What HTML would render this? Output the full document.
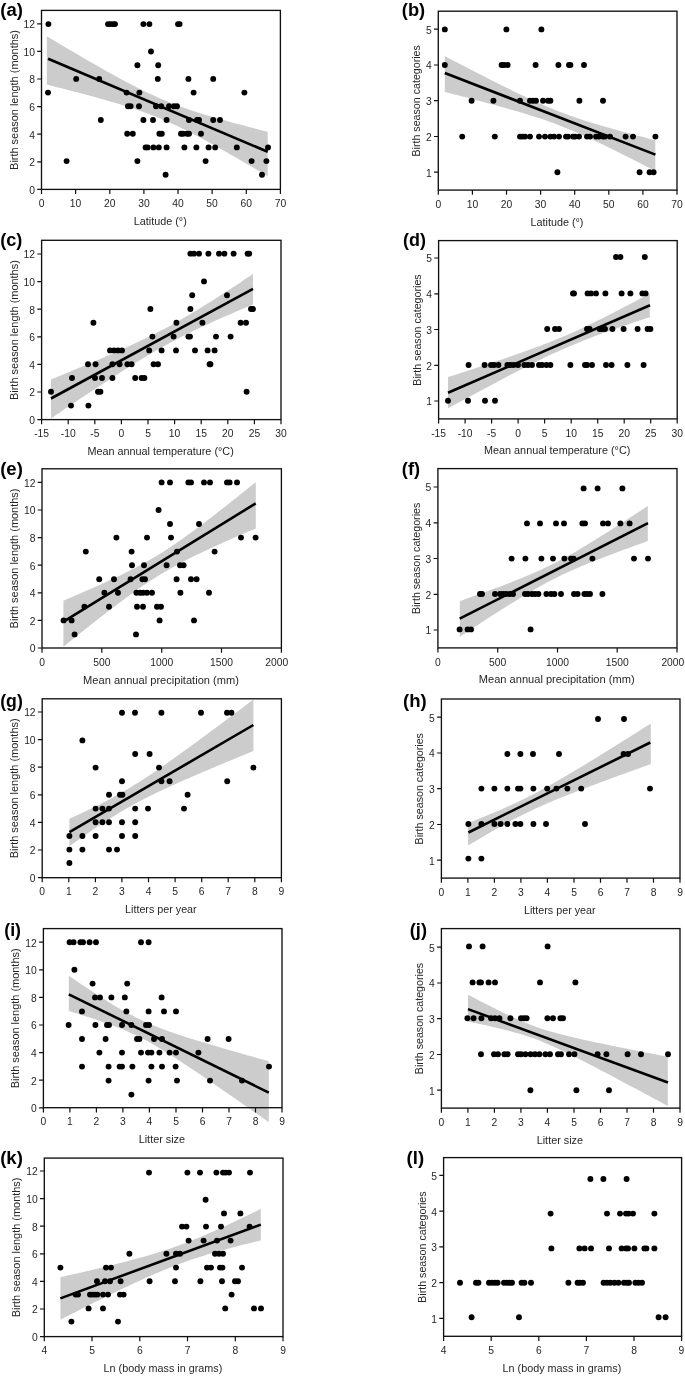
<!DOCTYPE html><html><head><meta charset="utf-8"><style>html,body{margin:0;padding:0;background:#fff;overflow:hidden;}svg{display:block;filter:grayscale(1);}text{font-family:"Liberation Sans", sans-serif;}</style></head><body>
<svg width="685" height="1377" viewBox="0 0 685 1377" shape-rendering="geometricPrecision">
<rect width="685" height="1377" fill="#fff"/>
<clipPath id="clip_a"><rect x="41.5" y="10.4" width="238.9" height="179"/></clipPath>
<path d="M46.80,36.29 L51.40,39.03 L56.00,41.76 L60.61,44.49 L65.21,47.21 L69.81,49.92 L74.41,52.62 L79.01,55.31 L83.62,57.99 L88.22,60.66 L92.82,63.31 L97.42,65.94 L102.02,68.56 L106.63,71.16 L111.23,73.73 L115.83,76.27 L120.43,78.78 L125.04,81.26 L129.64,83.69 L134.24,86.08 L138.84,88.42 L143.44,90.70 L148.05,92.92 L152.65,95.07 L157.25,97.15 L161.85,99.16 L166.45,101.09 L171.06,102.95 L175.66,104.73 L180.26,106.44 L184.86,108.09 L189.46,109.68 L194.07,111.21 L198.67,112.70 L203.27,114.14 L207.87,115.54 L212.47,116.91 L217.08,118.25 L221.68,119.57 L226.28,120.86 L230.88,122.13 L235.49,123.38 L240.09,124.62 L244.69,125.85 L249.29,127.06 L253.89,128.26 L258.50,129.46 L263.10,130.64 L267.70,131.82 L267.70,176.16 L263.10,173.43 L258.50,170.72 L253.89,168.01 L249.29,165.32 L244.69,162.63 L240.09,159.96 L235.49,157.30 L230.88,154.66 L226.28,152.03 L221.68,149.43 L217.08,146.84 L212.47,144.28 L207.87,141.76 L203.27,139.26 L198.67,136.81 L194.07,134.39 L189.46,132.03 L184.86,129.72 L180.26,127.47 L175.66,125.28 L171.06,123.17 L166.45,121.13 L161.85,119.16 L157.25,117.27 L152.65,115.45 L148.05,113.70 L143.44,112.02 L138.84,110.41 L134.24,108.85 L129.64,107.34 L125.04,105.88 L120.43,104.46 L115.83,103.07 L111.23,101.72 L106.63,100.39 L102.02,99.09 L97.42,97.80 L92.82,96.54 L88.22,95.30 L83.62,94.06 L79.01,92.85 L74.41,91.64 L69.81,90.44 L65.21,89.25 L60.61,88.07 L56.00,86.90 L51.40,85.74 L46.80,84.58 Z" fill="#cccccc" clip-path="url(#clip_a)"/>
<circle cx="48.4" cy="24.1" r="2.95"/>
<circle cx="108" cy="24.1" r="2.95"/>
<circle cx="110.4" cy="24.1" r="2.95"/>
<circle cx="113" cy="24.1" r="2.95"/>
<circle cx="115" cy="24.1" r="2.95"/>
<circle cx="143.4" cy="24.1" r="2.95"/>
<circle cx="149.4" cy="24.1" r="2.95"/>
<circle cx="178" cy="24.1" r="2.95"/>
<circle cx="179.6" cy="24.1" r="2.95"/>
<circle cx="151" cy="51.5" r="2.95"/>
<circle cx="137.4" cy="65.2" r="2.95"/>
<circle cx="158.2" cy="65.2" r="2.95"/>
<circle cx="76.2" cy="78.9" r="2.95"/>
<circle cx="99.2" cy="78.9" r="2.95"/>
<circle cx="157.8" cy="78.9" r="2.95"/>
<circle cx="188.4" cy="78.9" r="2.95"/>
<circle cx="213.2" cy="78.9" r="2.95"/>
<circle cx="48" cy="92.6" r="2.95"/>
<circle cx="126.6" cy="92.6" r="2.95"/>
<circle cx="139.4" cy="92.6" r="2.95"/>
<circle cx="193.6" cy="92.6" r="2.95"/>
<circle cx="244.4" cy="92.6" r="2.95"/>
<circle cx="128" cy="106.3" r="2.95"/>
<circle cx="130.6" cy="106.3" r="2.95"/>
<circle cx="139" cy="106.3" r="2.95"/>
<circle cx="156" cy="106.3" r="2.95"/>
<circle cx="161.2" cy="106.3" r="2.95"/>
<circle cx="169" cy="106.3" r="2.95"/>
<circle cx="174" cy="106.3" r="2.95"/>
<circle cx="177" cy="106.3" r="2.95"/>
<circle cx="100.8" cy="120" r="2.95"/>
<circle cx="143.4" cy="120" r="2.95"/>
<circle cx="153" cy="120" r="2.95"/>
<circle cx="166.6" cy="120" r="2.95"/>
<circle cx="189" cy="120" r="2.95"/>
<circle cx="197" cy="120" r="2.95"/>
<circle cx="199" cy="120" r="2.95"/>
<circle cx="213.2" cy="120" r="2.95"/>
<circle cx="220" cy="120" r="2.95"/>
<circle cx="127.2" cy="133.7" r="2.95"/>
<circle cx="132.8" cy="133.7" r="2.95"/>
<circle cx="159.4" cy="133.7" r="2.95"/>
<circle cx="161.8" cy="133.7" r="2.95"/>
<circle cx="181" cy="133.7" r="2.95"/>
<circle cx="183" cy="133.7" r="2.95"/>
<circle cx="187" cy="133.7" r="2.95"/>
<circle cx="189" cy="133.7" r="2.95"/>
<circle cx="201" cy="133.7" r="2.95"/>
<circle cx="145.6" cy="147.4" r="2.95"/>
<circle cx="147.6" cy="147.4" r="2.95"/>
<circle cx="153.4" cy="147.4" r="2.95"/>
<circle cx="158.8" cy="147.4" r="2.95"/>
<circle cx="166.6" cy="147.4" r="2.95"/>
<circle cx="184.4" cy="147.4" r="2.95"/>
<circle cx="196.4" cy="147.4" r="2.95"/>
<circle cx="208.6" cy="147.4" r="2.95"/>
<circle cx="215.2" cy="147.4" r="2.95"/>
<circle cx="236.8" cy="147.4" r="2.95"/>
<circle cx="268" cy="147.4" r="2.95"/>
<circle cx="66.6" cy="161.1" r="2.95"/>
<circle cx="137.4" cy="161.1" r="2.95"/>
<circle cx="205.6" cy="161.1" r="2.95"/>
<circle cx="251.6" cy="161.1" r="2.95"/>
<circle cx="266.4" cy="161.1" r="2.95"/>
<circle cx="165.6" cy="174.8" r="2.95"/>
<circle cx="262" cy="174.8" r="2.95"/>
<line x1="48.1" y1="58.8" x2="267.7" y2="151.8" stroke="#000" stroke-width="2.6"/>
<rect x="41.5" y="10.4" width="238.9" height="179" fill="none" stroke="#111" stroke-width="1.35"/>
<text x="41.5" y="207" font-size="10.3" fill="#262626" text-anchor="middle">0</text>
<text x="75.6" y="207" font-size="10.3" fill="#262626" text-anchor="middle">10</text>
<text x="109.8" y="207" font-size="10.3" fill="#262626" text-anchor="middle">20</text>
<text x="143.9" y="207" font-size="10.3" fill="#262626" text-anchor="middle">30</text>
<text x="178" y="207" font-size="10.3" fill="#262626" text-anchor="middle">40</text>
<text x="212.1" y="207" font-size="10.3" fill="#262626" text-anchor="middle">50</text>
<text x="246.3" y="207" font-size="10.3" fill="#262626" text-anchor="middle">60</text>
<text x="280.4" y="207" font-size="10.3" fill="#262626" text-anchor="middle">70</text>
<text x="34.9" y="193.8" font-size="10.3" fill="#262626" text-anchor="end">0</text>
<text x="34.9" y="166.2" font-size="10.3" fill="#262626" text-anchor="end">2</text>
<text x="34.9" y="138.6" font-size="10.3" fill="#262626" text-anchor="end">4</text>
<text x="34.9" y="111" font-size="10.3" fill="#262626" text-anchor="end">6</text>
<text x="34.9" y="83.4" font-size="10.3" fill="#262626" text-anchor="end">8</text>
<text x="34.9" y="55.8" font-size="10.3" fill="#262626" text-anchor="end">10</text>
<text x="34.9" y="28.2" font-size="10.3" fill="#262626" text-anchor="end">12</text>
<path d="M41.5,189.4v4.7 M75.6,189.4v4.7 M109.8,189.4v4.7 M143.9,189.4v4.7 M178,189.4v4.7 M212.1,189.4v4.7 M246.3,189.4v4.7 M280.4,189.4v4.7 M41.5,189.4h-4.3 M41.5,161.8h-4.3 M41.5,134.2h-4.3 M41.5,106.6h-4.3 M41.5,79h-4.3 M41.5,51.4h-4.3 M41.5,23.8h-4.3" stroke="#111" stroke-width="1.2" fill="none"/>
<text x="133.8" y="224.9" font-size="10.5" fill="#262626" textLength="52.96" lengthAdjust="spacingAndGlyphs">Latitude (°)</text>
<text transform="translate(17.5,99.9) rotate(-90)" x="-70.00" y="0" font-size="10.5" fill="#262626" textLength="139.77" lengthAdjust="spacingAndGlyphs">Birth season length (months)</text>
<text x="0.28" y="16.14" font-size="18" font-weight="bold" fill="#000" textLength="22.65" lengthAdjust="spacingAndGlyphs">(a)</text>
<clipPath id="clip_b"><rect x="438.3" y="11.2" width="238.7" height="178.9"/></clipPath>
<path d="M444.80,56.26 L449.19,58.54 L453.57,60.81 L457.96,63.08 L462.34,65.35 L466.73,67.61 L471.11,69.86 L475.50,72.11 L479.88,74.35 L484.27,76.58 L488.65,78.81 L493.04,81.02 L497.43,83.23 L501.81,85.42 L506.20,87.59 L510.58,89.75 L514.97,91.88 L519.35,94.00 L523.74,96.09 L528.12,98.15 L532.51,100.17 L536.89,102.16 L541.28,104.11 L545.66,106.00 L550.05,107.85 L554.44,109.65 L558.82,111.38 L563.21,113.06 L567.59,114.69 L571.98,116.26 L576.36,117.77 L580.75,119.24 L585.13,120.67 L589.52,122.05 L593.90,123.40 L598.29,124.72 L602.67,126.01 L607.06,127.28 L611.45,128.53 L615.83,129.76 L620.22,130.97 L624.60,132.17 L628.99,133.36 L633.37,134.54 L637.76,135.71 L642.14,136.87 L646.53,138.02 L650.91,139.16 L655.30,140.30 L655.30,171.03 L650.91,168.78 L646.53,166.52 L642.14,164.28 L637.76,162.04 L633.37,159.81 L628.99,157.59 L624.60,155.38 L620.22,153.18 L615.83,150.99 L611.45,148.83 L607.06,146.67 L602.67,144.54 L598.29,142.44 L593.90,140.36 L589.52,138.31 L585.13,136.30 L580.75,134.32 L576.36,132.39 L571.98,130.51 L567.59,128.68 L563.21,126.91 L558.82,125.19 L554.44,123.53 L550.05,121.92 L545.66,120.37 L541.28,118.87 L536.89,117.42 L532.51,116.01 L528.12,114.64 L523.74,113.30 L519.35,111.99 L514.97,110.71 L510.58,109.44 L506.20,108.20 L501.81,106.98 L497.43,105.77 L493.04,104.57 L488.65,103.39 L484.27,102.22 L479.88,101.05 L475.50,99.89 L471.11,98.74 L466.73,97.60 L462.34,96.46 L457.96,95.33 L453.57,94.20 L449.19,93.08 L444.80,91.95 Z" fill="#cccccc" clip-path="url(#clip_b)"/>
<circle cx="444.8" cy="29.4" r="2.95"/>
<circle cx="506.4" cy="29.4" r="2.95"/>
<circle cx="541.4" cy="29.4" r="2.95"/>
<circle cx="444.8" cy="65" r="2.95"/>
<circle cx="501.6" cy="65" r="2.95"/>
<circle cx="504" cy="65" r="2.95"/>
<circle cx="507.6" cy="65" r="2.95"/>
<circle cx="535.6" cy="65" r="2.95"/>
<circle cx="558.4" cy="65" r="2.95"/>
<circle cx="569" cy="65" r="2.95"/>
<circle cx="570.4" cy="65" r="2.95"/>
<circle cx="584" cy="65" r="2.95"/>
<circle cx="471.6" cy="100.8" r="2.95"/>
<circle cx="493.4" cy="100.8" r="2.95"/>
<circle cx="520" cy="100.8" r="2.95"/>
<circle cx="530" cy="100.8" r="2.95"/>
<circle cx="533" cy="100.8" r="2.95"/>
<circle cx="536" cy="100.8" r="2.95"/>
<circle cx="543" cy="100.8" r="2.95"/>
<circle cx="548" cy="100.8" r="2.95"/>
<circle cx="550.4" cy="100.8" r="2.95"/>
<circle cx="579.4" cy="100.8" r="2.95"/>
<circle cx="603" cy="100.8" r="2.95"/>
<circle cx="462.2" cy="136.6" r="2.95"/>
<circle cx="494.8" cy="136.6" r="2.95"/>
<circle cx="520" cy="136.6" r="2.95"/>
<circle cx="522.4" cy="136.6" r="2.95"/>
<circle cx="525" cy="136.6" r="2.95"/>
<circle cx="530" cy="136.6" r="2.95"/>
<circle cx="539" cy="136.6" r="2.95"/>
<circle cx="545" cy="136.6" r="2.95"/>
<circle cx="550.4" cy="136.6" r="2.95"/>
<circle cx="554" cy="136.6" r="2.95"/>
<circle cx="559" cy="136.6" r="2.95"/>
<circle cx="566" cy="136.6" r="2.95"/>
<circle cx="568" cy="136.6" r="2.95"/>
<circle cx="573" cy="136.6" r="2.95"/>
<circle cx="575" cy="136.6" r="2.95"/>
<circle cx="579" cy="136.6" r="2.95"/>
<circle cx="587" cy="136.6" r="2.95"/>
<circle cx="590" cy="136.6" r="2.95"/>
<circle cx="596" cy="136.6" r="2.95"/>
<circle cx="599" cy="136.6" r="2.95"/>
<circle cx="603" cy="136.6" r="2.95"/>
<circle cx="605" cy="136.6" r="2.95"/>
<circle cx="610" cy="136.6" r="2.95"/>
<circle cx="625.6" cy="136.6" r="2.95"/>
<circle cx="633" cy="136.6" r="2.95"/>
<circle cx="655.4" cy="136.6" r="2.95"/>
<circle cx="557.4" cy="172.2" r="2.95"/>
<circle cx="639.6" cy="172.2" r="2.95"/>
<circle cx="649.6" cy="172.2" r="2.95"/>
<circle cx="653.6" cy="172.2" r="2.95"/>
<line x1="444.8" y1="73" x2="655.4" y2="154.6" stroke="#000" stroke-width="2.6"/>
<rect x="438.3" y="11.2" width="238.7" height="178.9" fill="none" stroke="#111" stroke-width="1.35"/>
<text x="438.3" y="207.7" font-size="10.3" fill="#262626" text-anchor="middle">0</text>
<text x="472.4" y="207.7" font-size="10.3" fill="#262626" text-anchor="middle">10</text>
<text x="506.5" y="207.7" font-size="10.3" fill="#262626" text-anchor="middle">20</text>
<text x="540.6" y="207.7" font-size="10.3" fill="#262626" text-anchor="middle">30</text>
<text x="574.7" y="207.7" font-size="10.3" fill="#262626" text-anchor="middle">40</text>
<text x="608.8" y="207.7" font-size="10.3" fill="#262626" text-anchor="middle">50</text>
<text x="642.9" y="207.7" font-size="10.3" fill="#262626" text-anchor="middle">60</text>
<text x="677" y="207.7" font-size="10.3" fill="#262626" text-anchor="middle">70</text>
<text x="431.7" y="176.6" font-size="10.3" fill="#262626" text-anchor="end">1</text>
<text x="431.7" y="140.9" font-size="10.3" fill="#262626" text-anchor="end">2</text>
<text x="431.7" y="105.1" font-size="10.3" fill="#262626" text-anchor="end">3</text>
<text x="431.7" y="69.4" font-size="10.3" fill="#262626" text-anchor="end">4</text>
<text x="431.7" y="33.6" font-size="10.3" fill="#262626" text-anchor="end">5</text>
<path d="M438.3,190.1v4.7 M472.4,190.1v4.7 M506.5,190.1v4.7 M540.6,190.1v4.7 M574.7,190.1v4.7 M608.8,190.1v4.7 M642.9,190.1v4.7 M677,190.1v4.7 M438.3,172.2h-4.3 M438.3,136.5h-4.3 M438.3,100.7h-4.3 M438.3,65h-4.3 M438.3,29.2h-4.3" stroke="#111" stroke-width="1.2" fill="none"/>
<text x="530.5" y="225.6" font-size="10.5" fill="#262626" textLength="52.96" lengthAdjust="spacingAndGlyphs">Latitude (°)</text>
<text transform="translate(420.2,100.6) rotate(-90)" x="-55.92" y="0" font-size="10.5" fill="#262626" textLength="111.36" lengthAdjust="spacingAndGlyphs">Birth season categories</text>
<text x="401.89" y="15.54" font-size="18" font-weight="bold" fill="#000" textLength="23.32" lengthAdjust="spacingAndGlyphs">(b)</text>
<clipPath id="clip_c"><rect x="41.6" y="240.3" width="239.4" height="179.3"/></clipPath>
<path d="M51.00,379.48 L55.21,377.76 L59.42,376.03 L63.62,374.29 L67.83,372.55 L72.04,370.81 L76.25,369.06 L80.46,367.30 L84.67,365.53 L88.88,363.76 L93.08,361.98 L97.29,360.18 L101.50,358.38 L105.71,356.56 L109.92,354.73 L114.12,352.88 L118.33,351.02 L122.54,349.13 L126.75,347.23 L130.96,345.30 L135.17,343.34 L139.38,341.35 L143.58,339.33 L147.79,337.28 L152.00,335.18 L156.21,333.05 L160.42,330.87 L164.62,328.65 L168.83,326.39 L173.04,324.08 L177.25,321.72 L181.46,319.32 L185.67,316.87 L189.88,314.39 L194.08,311.87 L198.29,309.31 L202.50,306.72 L206.71,304.11 L210.92,301.46 L215.12,298.79 L219.33,296.10 L223.54,293.40 L227.75,290.67 L231.96,287.93 L236.17,285.17 L240.38,282.40 L244.58,279.62 L248.79,276.84 L253.00,274.04 L253.00,304.44 L248.79,306.21 L244.58,307.99 L240.38,309.78 L236.17,311.59 L231.96,313.40 L227.75,315.23 L223.54,317.08 L219.33,318.94 L215.12,320.82 L210.92,322.72 L206.71,324.65 L202.50,326.60 L198.29,328.58 L194.08,330.60 L189.88,332.65 L185.67,334.74 L181.46,336.86 L177.25,339.03 L173.04,341.25 L168.83,343.51 L164.62,345.81 L160.42,348.16 L156.21,350.55 L152.00,352.99 L147.79,355.47 L143.58,357.99 L139.38,360.54 L135.17,363.12 L130.96,365.73 L126.75,368.37 L122.54,371.04 L118.33,373.73 L114.12,376.43 L109.92,379.16 L105.71,381.89 L101.50,384.65 L97.29,387.41 L93.08,390.19 L88.88,392.98 L84.67,395.78 L80.46,398.58 L76.25,401.39 L72.04,404.21 L67.83,407.04 L63.62,409.87 L59.42,412.71 L55.21,415.55 L51.00,418.39 Z" fill="#cccccc" clip-path="url(#clip_c)"/>
<circle cx="190.4" cy="253.6" r="2.95"/>
<circle cx="194" cy="253.6" r="2.95"/>
<circle cx="199" cy="253.6" r="2.95"/>
<circle cx="208.4" cy="253.6" r="2.95"/>
<circle cx="219" cy="253.6" r="2.95"/>
<circle cx="224.4" cy="253.6" r="2.95"/>
<circle cx="233.6" cy="253.6" r="2.95"/>
<circle cx="247.6" cy="253.6" r="2.95"/>
<circle cx="249.2" cy="253.6" r="2.95"/>
<circle cx="204" cy="281.4" r="2.95"/>
<circle cx="192.2" cy="295.2" r="2.95"/>
<circle cx="227" cy="295.2" r="2.95"/>
<circle cx="150.4" cy="309" r="2.95"/>
<circle cx="190.4" cy="309" r="2.95"/>
<circle cx="251" cy="309" r="2.95"/>
<circle cx="253" cy="309" r="2.95"/>
<circle cx="93.4" cy="322.8" r="2.95"/>
<circle cx="176.4" cy="322.8" r="2.95"/>
<circle cx="202.4" cy="322.8" r="2.95"/>
<circle cx="240.6" cy="322.8" r="2.95"/>
<circle cx="246" cy="322.8" r="2.95"/>
<circle cx="152.4" cy="336.6" r="2.95"/>
<circle cx="173.6" cy="336.6" r="2.95"/>
<circle cx="188.4" cy="336.6" r="2.95"/>
<circle cx="190" cy="336.6" r="2.95"/>
<circle cx="216" cy="336.6" r="2.95"/>
<circle cx="230.6" cy="336.6" r="2.95"/>
<circle cx="110" cy="350.4" r="2.95"/>
<circle cx="114" cy="350.4" r="2.95"/>
<circle cx="118" cy="350.4" r="2.95"/>
<circle cx="122" cy="350.4" r="2.95"/>
<circle cx="149.2" cy="350.4" r="2.95"/>
<circle cx="161.6" cy="350.4" r="2.95"/>
<circle cx="176" cy="350.4" r="2.95"/>
<circle cx="195" cy="350.4" r="2.95"/>
<circle cx="207.6" cy="350.4" r="2.95"/>
<circle cx="214.6" cy="350.4" r="2.95"/>
<circle cx="88" cy="364.2" r="2.95"/>
<circle cx="95.6" cy="364.2" r="2.95"/>
<circle cx="112.4" cy="364.2" r="2.95"/>
<circle cx="119.6" cy="364.2" r="2.95"/>
<circle cx="127.4" cy="364.2" r="2.95"/>
<circle cx="131.6" cy="364.2" r="2.95"/>
<circle cx="153.6" cy="364.2" r="2.95"/>
<circle cx="158" cy="364.2" r="2.95"/>
<circle cx="209.6" cy="364.2" r="2.95"/>
<circle cx="210.4" cy="364.2" r="2.95"/>
<circle cx="72" cy="378" r="2.95"/>
<circle cx="95" cy="378" r="2.95"/>
<circle cx="102" cy="378" r="2.95"/>
<circle cx="112.4" cy="378" r="2.95"/>
<circle cx="135.2" cy="378" r="2.95"/>
<circle cx="141.6" cy="378" r="2.95"/>
<circle cx="144.4" cy="378" r="2.95"/>
<circle cx="51" cy="391.8" r="2.95"/>
<circle cx="98" cy="391.8" r="2.95"/>
<circle cx="100.4" cy="391.8" r="2.95"/>
<circle cx="246.6" cy="391.8" r="2.95"/>
<circle cx="71" cy="405.6" r="2.95"/>
<circle cx="88.4" cy="405.6" r="2.95"/>
<line x1="51" y1="398.5" x2="253" y2="288.8" stroke="#000" stroke-width="2.6"/>
<rect x="41.6" y="240.3" width="239.4" height="179.3" fill="none" stroke="#111" stroke-width="1.35"/>
<text x="41.6" y="437.2" font-size="10.3" fill="#262626" text-anchor="middle">-15</text>
<text x="68.2" y="437.2" font-size="10.3" fill="#262626" text-anchor="middle">-10</text>
<text x="94.8" y="437.2" font-size="10.3" fill="#262626" text-anchor="middle">-5</text>
<text x="121.4" y="437.2" font-size="10.3" fill="#262626" text-anchor="middle">0</text>
<text x="148" y="437.2" font-size="10.3" fill="#262626" text-anchor="middle">5</text>
<text x="174.6" y="437.2" font-size="10.3" fill="#262626" text-anchor="middle">10</text>
<text x="201.2" y="437.2" font-size="10.3" fill="#262626" text-anchor="middle">15</text>
<text x="227.8" y="437.2" font-size="10.3" fill="#262626" text-anchor="middle">20</text>
<text x="254.4" y="437.2" font-size="10.3" fill="#262626" text-anchor="middle">25</text>
<text x="281" y="437.2" font-size="10.3" fill="#262626" text-anchor="middle">30</text>
<text x="35" y="424" font-size="10.3" fill="#262626" text-anchor="end">0</text>
<text x="35" y="396.4" font-size="10.3" fill="#262626" text-anchor="end">2</text>
<text x="35" y="368.8" font-size="10.3" fill="#262626" text-anchor="end">4</text>
<text x="35" y="341.2" font-size="10.3" fill="#262626" text-anchor="end">6</text>
<text x="35" y="313.6" font-size="10.3" fill="#262626" text-anchor="end">8</text>
<text x="35" y="286" font-size="10.3" fill="#262626" text-anchor="end">10</text>
<text x="35" y="258.4" font-size="10.3" fill="#262626" text-anchor="end">12</text>
<path d="M41.6,419.6v4.7 M68.2,419.6v4.7 M94.8,419.6v4.7 M121.4,419.6v4.7 M148,419.6v4.7 M174.6,419.6v4.7 M201.2,419.6v4.7 M227.8,419.6v4.7 M254.4,419.6v4.7 M281,419.6v4.7 M41.6,419.6h-4.3 M41.6,392h-4.3 M41.6,364.4h-4.3 M41.6,336.8h-4.3 M41.6,309.2h-4.3 M41.6,281.6h-4.3 M41.6,254h-4.3" stroke="#111" stroke-width="1.2" fill="none"/>
<text x="87.4" y="455.1" font-size="10.5" fill="#262626" textLength="146.36" lengthAdjust="spacingAndGlyphs">Mean annual temperature (°C)</text>
<text transform="translate(17.6,330) rotate(-90)" x="-70.00" y="0" font-size="10.5" fill="#262626" textLength="139.77" lengthAdjust="spacingAndGlyphs">Birth season length (months)</text>
<text x="0.19" y="246.44" font-size="18" font-weight="bold" fill="#000" textLength="22.21" lengthAdjust="spacingAndGlyphs">(c)</text>
<clipPath id="clip_d"><rect x="438.6" y="240.6" width="238.6" height="178.3"/></clipPath>
<path d="M448.00,377.10 L452.20,375.74 L456.41,374.38 L460.61,373.02 L464.82,371.66 L469.02,370.29 L473.23,368.91 L477.43,367.53 L481.63,366.15 L485.84,364.76 L490.04,363.36 L494.25,361.96 L498.45,360.55 L502.65,359.13 L506.86,357.70 L511.06,356.25 L515.27,354.80 L519.47,353.33 L523.67,351.84 L527.88,350.33 L532.08,348.81 L536.29,347.26 L540.49,345.68 L544.70,344.07 L548.90,342.43 L553.10,340.76 L557.31,339.05 L561.51,337.29 L565.72,335.50 L569.92,333.67 L574.12,331.80 L578.33,329.88 L582.53,327.93 L586.74,325.94 L590.94,323.92 L595.15,321.86 L599.35,319.78 L603.55,317.68 L607.76,315.55 L611.96,313.40 L616.17,311.24 L620.37,309.06 L624.57,306.86 L628.78,304.65 L632.98,302.44 L637.19,300.21 L641.39,297.97 L645.60,295.73 L649.80,293.48 L649.80,317.13 L645.60,318.52 L641.39,319.92 L637.19,321.33 L632.98,322.74 L628.78,324.17 L624.57,325.60 L620.37,327.05 L616.17,328.51 L611.96,329.99 L607.76,331.48 L603.55,333.00 L599.35,334.53 L595.15,336.10 L590.94,337.69 L586.74,339.31 L582.53,340.96 L578.33,342.65 L574.12,344.38 L569.92,346.14 L565.72,347.95 L561.51,349.80 L557.31,351.69 L553.10,353.62 L548.90,355.59 L544.70,357.60 L540.49,359.63 L536.29,361.70 L532.08,363.79 L527.88,365.90 L523.67,368.04 L519.47,370.19 L515.27,372.36 L511.06,374.55 L506.86,376.75 L502.65,378.96 L498.45,381.18 L494.25,383.41 L490.04,385.65 L485.84,387.90 L481.63,390.15 L477.43,392.41 L473.23,394.67 L469.02,396.94 L464.82,399.21 L460.61,401.49 L456.41,403.77 L452.20,406.05 L448.00,408.34 Z" fill="#cccccc" clip-path="url(#clip_d)"/>
<circle cx="616" cy="257" r="2.95"/>
<circle cx="620.4" cy="257" r="2.95"/>
<circle cx="644.8" cy="257" r="2.95"/>
<circle cx="573" cy="293.4" r="2.95"/>
<circle cx="574" cy="293.4" r="2.95"/>
<circle cx="587.6" cy="293.4" r="2.95"/>
<circle cx="591" cy="293.4" r="2.95"/>
<circle cx="596" cy="293.4" r="2.95"/>
<circle cx="605.4" cy="293.4" r="2.95"/>
<circle cx="621.6" cy="293.4" r="2.95"/>
<circle cx="630.4" cy="293.4" r="2.95"/>
<circle cx="642.4" cy="293.4" r="2.95"/>
<circle cx="645.6" cy="293.4" r="2.95"/>
<circle cx="547.2" cy="329" r="2.95"/>
<circle cx="555" cy="329" r="2.95"/>
<circle cx="559" cy="329" r="2.95"/>
<circle cx="587" cy="329" r="2.95"/>
<circle cx="589.6" cy="329" r="2.95"/>
<circle cx="599.6" cy="329" r="2.95"/>
<circle cx="602" cy="329" r="2.95"/>
<circle cx="605" cy="329" r="2.95"/>
<circle cx="612.4" cy="329" r="2.95"/>
<circle cx="623.6" cy="329" r="2.95"/>
<circle cx="637.6" cy="329" r="2.95"/>
<circle cx="647.6" cy="329" r="2.95"/>
<circle cx="650.4" cy="329" r="2.95"/>
<circle cx="468.6" cy="365" r="2.95"/>
<circle cx="484.6" cy="365" r="2.95"/>
<circle cx="491" cy="365" r="2.95"/>
<circle cx="494" cy="365" r="2.95"/>
<circle cx="498.4" cy="365" r="2.95"/>
<circle cx="507.4" cy="365" r="2.95"/>
<circle cx="510.4" cy="365" r="2.95"/>
<circle cx="513.6" cy="365" r="2.95"/>
<circle cx="518" cy="365" r="2.95"/>
<circle cx="524.4" cy="365" r="2.95"/>
<circle cx="528" cy="365" r="2.95"/>
<circle cx="532" cy="365" r="2.95"/>
<circle cx="539" cy="365" r="2.95"/>
<circle cx="542" cy="365" r="2.95"/>
<circle cx="546.4" cy="365" r="2.95"/>
<circle cx="550.4" cy="365" r="2.95"/>
<circle cx="570.4" cy="365" r="2.95"/>
<circle cx="585" cy="365" r="2.95"/>
<circle cx="587" cy="365" r="2.95"/>
<circle cx="592" cy="365" r="2.95"/>
<circle cx="606" cy="365" r="2.95"/>
<circle cx="611.6" cy="365" r="2.95"/>
<circle cx="627.4" cy="365" r="2.95"/>
<circle cx="643.6" cy="365" r="2.95"/>
<circle cx="448" cy="400.8" r="2.95"/>
<circle cx="468" cy="400.8" r="2.95"/>
<circle cx="485" cy="400.8" r="2.95"/>
<circle cx="495" cy="400.8" r="2.95"/>
<line x1="448" y1="392.8" x2="650" y2="305.3" stroke="#000" stroke-width="2.6"/>
<rect x="438.6" y="240.6" width="238.6" height="178.3" fill="none" stroke="#111" stroke-width="1.35"/>
<text x="438.6" y="436.5" font-size="10.3" fill="#262626" text-anchor="middle">-15</text>
<text x="465.1" y="436.5" font-size="10.3" fill="#262626" text-anchor="middle">-10</text>
<text x="491.6" y="436.5" font-size="10.3" fill="#262626" text-anchor="middle">-5</text>
<text x="518.1" y="436.5" font-size="10.3" fill="#262626" text-anchor="middle">0</text>
<text x="544.6" y="436.5" font-size="10.3" fill="#262626" text-anchor="middle">5</text>
<text x="571.2" y="436.5" font-size="10.3" fill="#262626" text-anchor="middle">10</text>
<text x="597.7" y="436.5" font-size="10.3" fill="#262626" text-anchor="middle">15</text>
<text x="624.2" y="436.5" font-size="10.3" fill="#262626" text-anchor="middle">20</text>
<text x="650.7" y="436.5" font-size="10.3" fill="#262626" text-anchor="middle">25</text>
<text x="677.2" y="436.5" font-size="10.3" fill="#262626" text-anchor="middle">30</text>
<text x="432" y="405.4" font-size="10.3" fill="#262626" text-anchor="end">1</text>
<text x="432" y="369.7" font-size="10.3" fill="#262626" text-anchor="end">2</text>
<text x="432" y="333.9" font-size="10.3" fill="#262626" text-anchor="end">3</text>
<text x="432" y="298.2" font-size="10.3" fill="#262626" text-anchor="end">4</text>
<text x="432" y="262.4" font-size="10.3" fill="#262626" text-anchor="end">5</text>
<path d="M438.6,418.9v4.7 M465.1,418.9v4.7 M491.6,418.9v4.7 M518.1,418.9v4.7 M544.6,418.9v4.7 M571.2,418.9v4.7 M597.7,418.9v4.7 M624.2,418.9v4.7 M650.7,418.9v4.7 M677.2,418.9v4.7 M438.6,401h-4.3 M438.6,365.3h-4.3 M438.6,329.5h-4.3 M438.6,293.8h-4.3 M438.6,258h-4.3" stroke="#111" stroke-width="1.2" fill="none"/>
<text x="484" y="454.4" font-size="10.5" fill="#262626" textLength="146.36" lengthAdjust="spacingAndGlyphs">Mean annual temperature (°C)</text>
<text transform="translate(420.5,329.8) rotate(-90)" x="-55.92" y="0" font-size="10.5" fill="#262626" textLength="111.36" lengthAdjust="spacingAndGlyphs">Birth season categories</text>
<text x="403.01" y="245.64" font-size="18" font-weight="bold" fill="#000" textLength="22.89" lengthAdjust="spacingAndGlyphs">(d)</text>
<clipPath id="clip_e"><rect x="42" y="468.8" width="239.4" height="179.2"/></clipPath>
<path d="M63.40,600.69 L67.41,598.98 L71.42,597.27 L75.42,595.54 L79.43,593.81 L83.44,592.07 L87.45,590.31 L91.46,588.55 L95.47,586.76 L99.47,584.97 L103.48,583.15 L107.49,581.32 L111.50,579.46 L115.51,577.57 L119.52,575.66 L123.53,573.71 L127.53,571.73 L131.54,569.71 L135.55,567.63 L139.56,565.51 L143.57,563.33 L147.57,561.09 L151.58,558.79 L155.59,556.42 L159.60,553.98 L163.61,551.47 L167.62,548.89 L171.62,546.24 L175.63,543.53 L179.64,540.77 L183.65,537.94 L187.66,535.07 L191.67,532.15 L195.68,529.19 L199.68,526.19 L203.69,523.16 L207.70,520.11 L211.71,517.03 L215.72,513.92 L219.73,510.80 L223.73,507.66 L227.74,504.50 L231.75,501.33 L235.76,498.15 L239.77,494.95 L243.78,491.75 L247.78,488.54 L251.79,485.32 L255.80,482.09 L255.80,528.44 L251.79,530.15 L247.78,531.86 L243.78,533.58 L239.77,535.32 L235.76,537.06 L231.75,538.81 L227.74,540.57 L223.73,542.35 L219.73,544.14 L215.72,545.95 L211.71,547.78 L207.70,549.64 L203.69,551.51 L199.68,553.42 L195.68,555.36 L191.67,557.33 L187.66,559.35 L183.65,561.41 L179.64,563.52 L175.63,565.68 L171.62,567.91 L167.62,570.20 L163.61,572.55 L159.60,574.98 L155.59,577.47 L151.58,580.03 L147.57,582.66 L143.57,585.36 L139.56,588.11 L135.55,590.93 L131.54,593.79 L127.53,596.70 L123.53,599.65 L119.52,602.64 L115.51,605.66 L111.50,608.71 L107.49,611.78 L103.48,614.88 L99.47,618.00 L95.47,621.14 L91.46,624.29 L87.45,627.46 L83.44,630.64 L79.43,633.83 L75.42,637.03 L71.42,640.24 L67.41,643.46 L63.40,646.69 Z" fill="#cccccc" clip-path="url(#clip_e)"/>
<circle cx="161.6" cy="482.4" r="2.95"/>
<circle cx="170" cy="482.4" r="2.95"/>
<circle cx="188.4" cy="482.4" r="2.95"/>
<circle cx="191" cy="482.4" r="2.95"/>
<circle cx="204" cy="482.4" r="2.95"/>
<circle cx="210" cy="482.4" r="2.95"/>
<circle cx="227" cy="482.4" r="2.95"/>
<circle cx="229.6" cy="482.4" r="2.95"/>
<circle cx="237" cy="482.4" r="2.95"/>
<circle cx="158.6" cy="510" r="2.95"/>
<circle cx="170" cy="524" r="2.95"/>
<circle cx="199" cy="524" r="2.95"/>
<circle cx="116.4" cy="537.6" r="2.95"/>
<circle cx="147" cy="537.6" r="2.95"/>
<circle cx="171" cy="537.6" r="2.95"/>
<circle cx="241" cy="537.6" r="2.95"/>
<circle cx="255.6" cy="537.6" r="2.95"/>
<circle cx="85.8" cy="551.6" r="2.95"/>
<circle cx="131.6" cy="551.6" r="2.95"/>
<circle cx="177" cy="551.6" r="2.95"/>
<circle cx="214.6" cy="551.6" r="2.95"/>
<circle cx="132" cy="565.2" r="2.95"/>
<circle cx="144" cy="565.2" r="2.95"/>
<circle cx="166.6" cy="565.2" r="2.95"/>
<circle cx="180" cy="565.2" r="2.95"/>
<circle cx="183.6" cy="565.2" r="2.95"/>
<circle cx="99.2" cy="579.2" r="2.95"/>
<circle cx="114" cy="579.2" r="2.95"/>
<circle cx="130.6" cy="579.2" r="2.95"/>
<circle cx="142.4" cy="579.2" r="2.95"/>
<circle cx="145" cy="579.2" r="2.95"/>
<circle cx="176.6" cy="579.2" r="2.95"/>
<circle cx="191" cy="579.2" r="2.95"/>
<circle cx="196.6" cy="579.2" r="2.95"/>
<circle cx="104.4" cy="592.8" r="2.95"/>
<circle cx="118" cy="592.8" r="2.95"/>
<circle cx="136.4" cy="592.8" r="2.95"/>
<circle cx="140" cy="592.8" r="2.95"/>
<circle cx="143" cy="592.8" r="2.95"/>
<circle cx="147" cy="592.8" r="2.95"/>
<circle cx="152" cy="592.8" r="2.95"/>
<circle cx="180.4" cy="592.8" r="2.95"/>
<circle cx="209" cy="592.8" r="2.95"/>
<circle cx="84.4" cy="606.8" r="2.95"/>
<circle cx="109" cy="606.8" r="2.95"/>
<circle cx="137" cy="606.8" r="2.95"/>
<circle cx="143" cy="606.8" r="2.95"/>
<circle cx="157" cy="606.8" r="2.95"/>
<circle cx="161" cy="606.8" r="2.95"/>
<circle cx="63.6" cy="620.4" r="2.95"/>
<circle cx="71.6" cy="620.4" r="2.95"/>
<circle cx="159.6" cy="620.4" r="2.95"/>
<circle cx="194" cy="620.4" r="2.95"/>
<circle cx="74.6" cy="634.4" r="2.95"/>
<circle cx="136" cy="634.4" r="2.95"/>
<line x1="63.5" y1="621.7" x2="255.7" y2="503.4" stroke="#000" stroke-width="2.6"/>
<rect x="42" y="468.8" width="239.4" height="179.2" fill="none" stroke="#111" stroke-width="1.35"/>
<text x="42" y="665.6" font-size="10.3" fill="#262626" text-anchor="middle">0</text>
<text x="101.8" y="665.6" font-size="10.3" fill="#262626" text-anchor="middle">500</text>
<text x="161.7" y="665.6" font-size="10.3" fill="#262626" text-anchor="middle">1000</text>
<text x="221.5" y="665.6" font-size="10.3" fill="#262626" text-anchor="middle">1500</text>
<text x="288.2" y="665.6" font-size="10.3" fill="#262626" text-anchor="end">2000</text>
<text x="35.4" y="652.4" font-size="10.3" fill="#262626" text-anchor="end">0</text>
<text x="35.4" y="624.8" font-size="10.3" fill="#262626" text-anchor="end">2</text>
<text x="35.4" y="597.2" font-size="10.3" fill="#262626" text-anchor="end">4</text>
<text x="35.4" y="569.6" font-size="10.3" fill="#262626" text-anchor="end">6</text>
<text x="35.4" y="542" font-size="10.3" fill="#262626" text-anchor="end">8</text>
<text x="35.4" y="514.4" font-size="10.3" fill="#262626" text-anchor="end">10</text>
<text x="35.4" y="486.8" font-size="10.3" fill="#262626" text-anchor="end">12</text>
<path d="M42,648v4.7 M101.8,648v4.7 M161.7,648v4.7 M221.5,648v4.7 M281.4,648v4.7 M42,648h-4.3 M42,620.4h-4.3 M42,592.8h-4.3 M42,565.2h-4.3 M42,537.6h-4.3 M42,510h-4.3 M42,482.4h-4.3" stroke="#111" stroke-width="1.2" fill="none"/>
<text x="83.1" y="683.5" font-size="10.5" fill="#262626" textLength="155.80" lengthAdjust="spacingAndGlyphs">Mean annual precipitation (mm)</text>
<text transform="translate(18,558.4) rotate(-90)" x="-70.00" y="0" font-size="10.5" fill="#262626" textLength="139.77" lengthAdjust="spacingAndGlyphs">Birth season length (months)</text>
<text x="0.18" y="474.74" font-size="18" font-weight="bold" fill="#000" textLength="22.65" lengthAdjust="spacingAndGlyphs">(e)</text>
<clipPath id="clip_f"><rect x="437.9" y="468.6" width="239.1" height="179.3"/></clipPath>
<path d="M459.80,601.15 L463.72,599.76 L467.63,598.36 L471.55,596.95 L475.47,595.54 L479.38,594.12 L483.30,592.69 L487.22,591.26 L491.13,589.81 L495.05,588.35 L498.97,586.88 L502.88,585.40 L506.80,583.90 L510.72,582.38 L514.63,580.83 L518.55,579.27 L522.47,577.67 L526.38,576.05 L530.30,574.39 L534.22,572.69 L538.13,570.94 L542.05,569.15 L545.97,567.31 L549.88,565.42 L553.80,563.47 L557.72,561.46 L561.63,559.40 L565.55,557.28 L569.47,555.11 L573.38,552.89 L577.30,550.63 L581.22,548.32 L585.13,545.98 L589.05,543.61 L592.97,541.21 L596.88,538.78 L600.80,536.33 L604.72,533.87 L608.63,531.38 L612.55,528.88 L616.47,526.36 L620.38,523.83 L624.30,521.30 L628.22,518.75 L632.13,516.19 L636.05,513.63 L639.97,511.06 L643.88,508.49 L647.80,505.91 L647.80,541.10 L643.88,542.50 L639.97,543.90 L636.05,545.31 L632.13,546.72 L628.22,548.14 L624.30,549.57 L620.38,551.01 L616.47,552.46 L612.55,553.92 L608.63,555.40 L604.72,556.89 L600.80,558.40 L596.88,559.93 L592.97,561.48 L589.05,563.05 L585.13,564.66 L581.22,566.29 L577.30,567.97 L573.38,569.68 L569.47,571.44 L565.55,573.25 L561.63,575.11 L557.72,577.02 L553.80,578.99 L549.88,581.02 L545.97,583.10 L542.05,585.23 L538.13,587.42 L534.22,589.65 L530.30,591.93 L526.38,594.25 L522.47,596.60 L518.55,598.98 L514.63,601.39 L510.72,603.83 L506.80,606.28 L502.88,608.76 L498.97,611.25 L495.05,613.76 L491.13,616.28 L487.22,618.81 L483.30,621.35 L479.38,623.90 L475.47,626.46 L471.55,629.02 L467.63,631.59 L463.72,634.17 L459.80,636.75 Z" fill="#cccccc" clip-path="url(#clip_f)"/>
<circle cx="583.6" cy="488.4" r="2.95"/>
<circle cx="597.6" cy="488.4" r="2.95"/>
<circle cx="622.4" cy="488.4" r="2.95"/>
<circle cx="527" cy="523.4" r="2.95"/>
<circle cx="540" cy="523.4" r="2.95"/>
<circle cx="556" cy="523.4" r="2.95"/>
<circle cx="564" cy="523.4" r="2.95"/>
<circle cx="582.4" cy="523.4" r="2.95"/>
<circle cx="585" cy="523.4" r="2.95"/>
<circle cx="603" cy="523.4" r="2.95"/>
<circle cx="608" cy="523.4" r="2.95"/>
<circle cx="620.4" cy="523.4" r="2.95"/>
<circle cx="629.6" cy="523.4" r="2.95"/>
<circle cx="511.6" cy="558.6" r="2.95"/>
<circle cx="525.4" cy="558.6" r="2.95"/>
<circle cx="541.4" cy="558.6" r="2.95"/>
<circle cx="553" cy="558.6" r="2.95"/>
<circle cx="564.4" cy="558.6" r="2.95"/>
<circle cx="571" cy="558.6" r="2.95"/>
<circle cx="573.6" cy="558.6" r="2.95"/>
<circle cx="592.4" cy="558.6" r="2.95"/>
<circle cx="634" cy="558.6" r="2.95"/>
<circle cx="648" cy="558.6" r="2.95"/>
<circle cx="480" cy="594" r="2.95"/>
<circle cx="482" cy="594" r="2.95"/>
<circle cx="495" cy="594" r="2.95"/>
<circle cx="500" cy="594" r="2.95"/>
<circle cx="503" cy="594" r="2.95"/>
<circle cx="506" cy="594" r="2.95"/>
<circle cx="509.6" cy="594" r="2.95"/>
<circle cx="513" cy="594" r="2.95"/>
<circle cx="525" cy="594" r="2.95"/>
<circle cx="528" cy="594" r="2.95"/>
<circle cx="532" cy="594" r="2.95"/>
<circle cx="535" cy="594" r="2.95"/>
<circle cx="538.4" cy="594" r="2.95"/>
<circle cx="546.4" cy="594" r="2.95"/>
<circle cx="551" cy="594" r="2.95"/>
<circle cx="554.4" cy="594" r="2.95"/>
<circle cx="561" cy="594" r="2.95"/>
<circle cx="574" cy="594" r="2.95"/>
<circle cx="577.6" cy="594" r="2.95"/>
<circle cx="584.4" cy="594" r="2.95"/>
<circle cx="587" cy="594" r="2.95"/>
<circle cx="590" cy="594" r="2.95"/>
<circle cx="602.4" cy="594" r="2.95"/>
<circle cx="459.6" cy="629.4" r="2.95"/>
<circle cx="467.6" cy="629.4" r="2.95"/>
<circle cx="471" cy="629.4" r="2.95"/>
<circle cx="530.6" cy="629.4" r="2.95"/>
<line x1="459.7" y1="618.7" x2="648" y2="523.1" stroke="#000" stroke-width="2.6"/>
<rect x="437.9" y="468.6" width="239.1" height="179.3" fill="none" stroke="#111" stroke-width="1.35"/>
<text x="437.9" y="665.5" font-size="10.3" fill="#262626" text-anchor="middle">0</text>
<text x="497.7" y="665.5" font-size="10.3" fill="#262626" text-anchor="middle">500</text>
<text x="557.5" y="665.5" font-size="10.3" fill="#262626" text-anchor="middle">1000</text>
<text x="617.2" y="665.5" font-size="10.3" fill="#262626" text-anchor="middle">1500</text>
<text x="684.3" y="665.5" font-size="10.3" fill="#262626" text-anchor="end">2000</text>
<text x="431.3" y="634.4" font-size="10.3" fill="#262626" text-anchor="end">1</text>
<text x="431.3" y="598.7" font-size="10.3" fill="#262626" text-anchor="end">2</text>
<text x="431.3" y="562.9" font-size="10.3" fill="#262626" text-anchor="end">3</text>
<text x="431.3" y="527.2" font-size="10.3" fill="#262626" text-anchor="end">4</text>
<text x="431.3" y="491.4" font-size="10.3" fill="#262626" text-anchor="end">5</text>
<path d="M437.9,647.9v4.7 M497.7,647.9v4.7 M557.5,647.9v4.7 M617.2,647.9v4.7 M677,647.9v4.7 M437.9,630h-4.3 M437.9,594.3h-4.3 M437.9,558.5h-4.3 M437.9,522.8h-4.3 M437.9,487h-4.3" stroke="#111" stroke-width="1.2" fill="none"/>
<text x="478.8" y="683.4" font-size="10.5" fill="#262626" textLength="155.80" lengthAdjust="spacingAndGlyphs">Mean annual precipitation (mm)</text>
<text transform="translate(419.8,558.2) rotate(-90)" x="-55.92" y="0" font-size="10.5" fill="#262626" textLength="111.36" lengthAdjust="spacingAndGlyphs">Birth season categories</text>
<text x="401.89" y="474.64" font-size="18" font-weight="bold" fill="#000" textLength="18.22" lengthAdjust="spacingAndGlyphs">(f)</text>
<clipPath id="clip_g"><rect x="42.2" y="698.8" width="239.2" height="178.9"/></clipPath>
<path d="M69.40,818.66 L73.23,816.94 L77.07,815.20 L80.90,813.44 L84.73,811.65 L88.57,809.83 L92.40,807.99 L96.23,806.11 L100.07,804.20 L103.90,802.25 L107.73,800.25 L111.57,798.21 L115.40,796.12 L119.23,793.97 L123.07,791.77 L126.90,789.52 L130.73,787.22 L134.57,784.87 L138.40,782.46 L142.23,780.01 L146.07,777.51 L149.90,774.97 L153.73,772.39 L157.57,769.78 L161.40,767.14 L165.23,764.47 L169.07,761.78 L172.90,759.06 L176.73,756.32 L180.57,753.57 L184.40,750.80 L188.23,748.02 L192.07,745.22 L195.90,742.41 L199.73,739.59 L203.57,736.76 L207.40,733.93 L211.23,731.08 L215.07,728.23 L218.90,725.38 L222.73,722.51 L226.57,719.65 L230.40,716.77 L234.23,713.90 L238.07,711.02 L241.90,708.13 L245.73,705.25 L249.57,702.36 L253.40,699.46 L253.40,751.02 L249.57,752.59 L245.73,754.17 L241.90,755.75 L238.07,757.33 L234.23,758.92 L230.40,760.51 L226.57,762.10 L222.73,763.70 L218.90,765.30 L215.07,766.91 L211.23,768.53 L207.40,770.15 L203.57,771.78 L199.73,773.42 L195.90,775.07 L192.07,776.73 L188.23,778.40 L184.40,780.08 L180.57,781.77 L176.73,783.49 L172.90,785.22 L169.07,786.97 L165.23,788.74 L161.40,790.54 L157.57,792.36 L153.73,794.22 L149.90,796.11 L146.07,798.04 L142.23,800.00 L138.40,802.02 L134.57,804.08 L130.73,806.19 L126.90,808.35 L123.07,810.57 L119.23,812.84 L115.40,815.16 L111.57,817.54 L107.73,819.96 L103.90,822.43 L100.07,824.95 L96.23,827.50 L92.40,830.09 L88.57,832.71 L84.73,835.36 L80.90,838.04 L77.07,840.75 L73.23,843.47 L69.40,846.21 Z" fill="#cccccc" clip-path="url(#clip_g)"/>
<circle cx="122" cy="712.8" r="2.95"/>
<circle cx="135" cy="712.8" r="2.95"/>
<circle cx="161.4" cy="712.8" r="2.95"/>
<circle cx="201" cy="712.8" r="2.95"/>
<circle cx="227" cy="712.8" r="2.95"/>
<circle cx="231.4" cy="712.8" r="2.95"/>
<circle cx="82.4" cy="740.4" r="2.95"/>
<circle cx="135.2" cy="754" r="2.95"/>
<circle cx="149.6" cy="754" r="2.95"/>
<circle cx="95.6" cy="767.6" r="2.95"/>
<circle cx="159" cy="767.6" r="2.95"/>
<circle cx="253.4" cy="767.6" r="2.95"/>
<circle cx="122" cy="781.2" r="2.95"/>
<circle cx="161.4" cy="781.2" r="2.95"/>
<circle cx="169.6" cy="781.2" r="2.95"/>
<circle cx="227.2" cy="781.2" r="2.95"/>
<circle cx="109" cy="794.8" r="2.95"/>
<circle cx="120" cy="794.8" r="2.95"/>
<circle cx="122.4" cy="794.8" r="2.95"/>
<circle cx="187.6" cy="794.8" r="2.95"/>
<circle cx="95.6" cy="808.6" r="2.95"/>
<circle cx="102.4" cy="808.6" r="2.95"/>
<circle cx="109" cy="808.6" r="2.95"/>
<circle cx="135.2" cy="808.6" r="2.95"/>
<circle cx="148" cy="808.6" r="2.95"/>
<circle cx="184" cy="808.6" r="2.95"/>
<circle cx="95.6" cy="822.2" r="2.95"/>
<circle cx="102.4" cy="822.2" r="2.95"/>
<circle cx="109" cy="822.2" r="2.95"/>
<circle cx="122" cy="822.2" r="2.95"/>
<circle cx="135.2" cy="822.2" r="2.95"/>
<circle cx="69.4" cy="836" r="2.95"/>
<circle cx="82.4" cy="836" r="2.95"/>
<circle cx="95.6" cy="836" r="2.95"/>
<circle cx="122" cy="836" r="2.95"/>
<circle cx="135.2" cy="836" r="2.95"/>
<circle cx="69.4" cy="849.6" r="2.95"/>
<circle cx="82.4" cy="849.6" r="2.95"/>
<circle cx="109" cy="849.6" r="2.95"/>
<circle cx="117" cy="849.6" r="2.95"/>
<circle cx="69.4" cy="863" r="2.95"/>
<line x1="69.4" y1="832.2" x2="253.4" y2="725" stroke="#000" stroke-width="2.6"/>
<rect x="42.2" y="698.8" width="239.2" height="178.9" fill="none" stroke="#111" stroke-width="1.35"/>
<text x="42.2" y="895.2" font-size="10.3" fill="#262626" text-anchor="middle">0</text>
<text x="68.8" y="895.2" font-size="10.3" fill="#262626" text-anchor="middle">1</text>
<text x="95.4" y="895.2" font-size="10.3" fill="#262626" text-anchor="middle">2</text>
<text x="121.9" y="895.2" font-size="10.3" fill="#262626" text-anchor="middle">3</text>
<text x="148.5" y="895.2" font-size="10.3" fill="#262626" text-anchor="middle">4</text>
<text x="175.1" y="895.2" font-size="10.3" fill="#262626" text-anchor="middle">5</text>
<text x="201.7" y="895.2" font-size="10.3" fill="#262626" text-anchor="middle">6</text>
<text x="228.2" y="895.2" font-size="10.3" fill="#262626" text-anchor="middle">7</text>
<text x="254.8" y="895.2" font-size="10.3" fill="#262626" text-anchor="middle">8</text>
<text x="281.4" y="895.2" font-size="10.3" fill="#262626" text-anchor="middle">9</text>
<text x="35.6" y="882" font-size="10.3" fill="#262626" text-anchor="end">0</text>
<text x="35.6" y="854.4" font-size="10.3" fill="#262626" text-anchor="end">2</text>
<text x="35.6" y="826.8" font-size="10.3" fill="#262626" text-anchor="end">4</text>
<text x="35.6" y="799.2" font-size="10.3" fill="#262626" text-anchor="end">6</text>
<text x="35.6" y="771.6" font-size="10.3" fill="#262626" text-anchor="end">8</text>
<text x="35.6" y="744" font-size="10.3" fill="#262626" text-anchor="end">10</text>
<text x="35.6" y="716.4" font-size="10.3" fill="#262626" text-anchor="end">12</text>
<path d="M42.2,877.6v4.7 M68.8,877.6v4.7 M95.4,877.6v4.7 M121.9,877.6v4.7 M148.5,877.6v4.7 M175.1,877.6v4.7 M201.7,877.6v4.7 M228.2,877.6v4.7 M254.8,877.6v4.7 M281.4,877.6v4.7 M42.2,877.6h-4.3 M42.2,850h-4.3 M42.2,822.4h-4.3 M42.2,794.8h-4.3 M42.2,767.2h-4.3 M42.2,739.6h-4.3 M42.2,712h-4.3" stroke="#111" stroke-width="1.2" fill="none"/>
<text x="125.1" y="913.1" font-size="10.5" fill="#262626" textLength="71.56" lengthAdjust="spacingAndGlyphs">Litters per year</text>
<text transform="translate(18.2,788.2) rotate(-90)" x="-70.00" y="0" font-size="10.5" fill="#262626" textLength="139.77" lengthAdjust="spacingAndGlyphs">Birth season length (months)</text>
<text x="0.22" y="706.54" font-size="18" font-weight="bold" fill="#000" textLength="22.56" lengthAdjust="spacingAndGlyphs">(g)</text>
<clipPath id="clip_h"><rect x="441.4" y="699" width="238.6" height="179.1"/></clipPath>
<path d="M468.10,822.92 L471.91,821.45 L475.71,819.97 L479.52,818.46 L483.33,816.95 L487.13,815.41 L490.94,813.85 L494.74,812.26 L498.55,810.65 L502.36,809.00 L506.16,807.33 L509.97,805.61 L513.77,803.86 L517.58,802.07 L521.39,800.24 L525.19,798.37 L529.00,796.46 L532.81,794.50 L536.61,792.50 L540.42,790.47 L544.23,788.40 L548.03,786.29 L551.84,784.15 L555.64,781.98 L559.45,779.79 L563.26,777.58 L567.06,775.34 L570.87,773.08 L574.67,770.81 L578.48,768.52 L582.29,766.22 L586.09,763.90 L589.90,761.58 L593.71,759.24 L597.51,756.90 L601.32,754.54 L605.12,752.19 L608.93,749.82 L612.74,747.45 L616.54,745.07 L620.35,742.69 L624.16,740.31 L627.96,737.92 L631.77,735.52 L635.57,733.13 L639.38,730.73 L643.19,728.32 L646.99,725.92 L650.80,723.51 L650.80,764.11 L646.99,765.47 L643.19,766.83 L639.38,768.19 L635.57,769.56 L631.77,770.93 L627.96,772.30 L624.16,773.68 L620.35,775.06 L616.54,776.44 L612.74,777.83 L608.93,779.23 L605.12,780.63 L601.32,782.04 L597.51,783.45 L593.71,784.88 L589.90,786.31 L586.09,787.75 L582.29,789.20 L578.48,790.66 L574.67,792.14 L570.87,793.63 L567.06,795.14 L563.26,796.67 L559.45,798.22 L555.64,799.80 L551.84,801.40 L548.03,803.02 L544.23,804.68 L540.42,806.38 L536.61,808.11 L532.81,809.88 L529.00,811.69 L525.19,813.54 L521.39,815.44 L517.58,817.37 L513.77,819.35 L509.97,821.37 L506.16,823.42 L502.36,825.51 L498.55,827.63 L494.74,829.79 L490.94,831.97 L487.13,834.17 L483.33,836.40 L479.52,838.65 L475.71,840.91 L471.91,843.19 L468.10,845.49 Z" fill="#cccccc" clip-path="url(#clip_h)"/>
<circle cx="598" cy="719" r="2.95"/>
<circle cx="624" cy="719" r="2.95"/>
<circle cx="507.4" cy="754" r="2.95"/>
<circle cx="520.4" cy="754" r="2.95"/>
<circle cx="533" cy="754" r="2.95"/>
<circle cx="559" cy="754" r="2.95"/>
<circle cx="623.6" cy="754" r="2.95"/>
<circle cx="628" cy="754" r="2.95"/>
<circle cx="481.4" cy="788.6" r="2.95"/>
<circle cx="494.4" cy="788.6" r="2.95"/>
<circle cx="507.4" cy="788.6" r="2.95"/>
<circle cx="518" cy="788.6" r="2.95"/>
<circle cx="520.4" cy="788.6" r="2.95"/>
<circle cx="533.4" cy="788.6" r="2.95"/>
<circle cx="547.2" cy="788.6" r="2.95"/>
<circle cx="556.4" cy="788.6" r="2.95"/>
<circle cx="567.4" cy="788.6" r="2.95"/>
<circle cx="581.2" cy="788.6" r="2.95"/>
<circle cx="650" cy="788.6" r="2.95"/>
<circle cx="468.4" cy="824" r="2.95"/>
<circle cx="481.4" cy="824" r="2.95"/>
<circle cx="494.4" cy="824" r="2.95"/>
<circle cx="500.6" cy="824" r="2.95"/>
<circle cx="507.4" cy="824" r="2.95"/>
<circle cx="515.4" cy="824" r="2.95"/>
<circle cx="520.4" cy="824" r="2.95"/>
<circle cx="533.4" cy="824" r="2.95"/>
<circle cx="546" cy="824" r="2.95"/>
<circle cx="585" cy="824" r="2.95"/>
<circle cx="468.4" cy="858.6" r="2.95"/>
<circle cx="481.4" cy="858.6" r="2.95"/>
<line x1="468.4" y1="832.5" x2="650.3" y2="742.5" stroke="#000" stroke-width="2.6"/>
<rect x="441.4" y="699" width="238.6" height="179.1" fill="none" stroke="#111" stroke-width="1.35"/>
<text x="441.4" y="895.7" font-size="10.3" fill="#262626" text-anchor="middle">0</text>
<text x="467.9" y="895.7" font-size="10.3" fill="#262626" text-anchor="middle">1</text>
<text x="494.4" y="895.7" font-size="10.3" fill="#262626" text-anchor="middle">2</text>
<text x="520.9" y="895.7" font-size="10.3" fill="#262626" text-anchor="middle">3</text>
<text x="547.4" y="895.7" font-size="10.3" fill="#262626" text-anchor="middle">4</text>
<text x="574" y="895.7" font-size="10.3" fill="#262626" text-anchor="middle">5</text>
<text x="600.5" y="895.7" font-size="10.3" fill="#262626" text-anchor="middle">6</text>
<text x="627" y="895.7" font-size="10.3" fill="#262626" text-anchor="middle">7</text>
<text x="653.5" y="895.7" font-size="10.3" fill="#262626" text-anchor="middle">8</text>
<text x="680" y="895.7" font-size="10.3" fill="#262626" text-anchor="middle">9</text>
<text x="434.8" y="864.6" font-size="10.3" fill="#262626" text-anchor="end">1</text>
<text x="434.8" y="828.9" font-size="10.3" fill="#262626" text-anchor="end">2</text>
<text x="434.8" y="793.1" font-size="10.3" fill="#262626" text-anchor="end">3</text>
<text x="434.8" y="757.4" font-size="10.3" fill="#262626" text-anchor="end">4</text>
<text x="434.8" y="721.6" font-size="10.3" fill="#262626" text-anchor="end">5</text>
<path d="M441.4,878.1v4.7 M467.9,878.1v4.7 M494.4,878.1v4.7 M520.9,878.1v4.7 M547.4,878.1v4.7 M574,878.1v4.7 M600.5,878.1v4.7 M627,878.1v4.7 M653.5,878.1v4.7 M680,878.1v4.7 M441.4,860.2h-4.3 M441.4,824.5h-4.3 M441.4,788.7h-4.3 M441.4,753h-4.3 M441.4,717.2h-4.3" stroke="#111" stroke-width="1.2" fill="none"/>
<text x="524" y="913.6" font-size="10.5" fill="#262626" textLength="71.56" lengthAdjust="spacingAndGlyphs">Litters per year</text>
<text transform="translate(423.3,788.5) rotate(-90)" x="-55.92" y="0" font-size="10.5" fill="#262626" textLength="111.36" lengthAdjust="spacingAndGlyphs">Birth season categories</text>
<text x="402.97" y="706.84" font-size="18" font-weight="bold" fill="#000" textLength="23.75" lengthAdjust="spacingAndGlyphs">(h)</text>
<clipPath id="clip_i"><rect x="43.4" y="928.6" width="238.6" height="179.1"/></clipPath>
<path d="M68.80,975.77 L72.97,978.61 L77.13,981.44 L81.30,984.25 L85.47,987.04 L89.63,989.80 L93.80,992.55 L97.97,995.26 L102.13,997.94 L106.30,1000.57 L110.47,1003.16 L114.63,1005.70 L118.80,1008.17 L122.97,1010.57 L127.13,1012.89 L131.30,1015.12 L135.47,1017.26 L139.63,1019.31 L143.80,1021.26 L147.97,1023.12 L152.13,1024.89 L156.30,1026.59 L160.47,1028.21 L164.63,1029.77 L168.80,1031.27 L172.97,1032.73 L177.13,1034.14 L181.30,1035.53 L185.47,1036.88 L189.63,1038.21 L193.80,1039.51 L197.97,1040.80 L202.13,1042.07 L206.30,1043.33 L210.47,1044.57 L214.63,1045.80 L218.80,1047.03 L222.97,1048.24 L227.13,1049.45 L231.30,1050.65 L235.47,1051.85 L239.63,1053.04 L243.80,1054.22 L247.97,1055.40 L252.13,1056.58 L256.30,1057.76 L260.47,1058.93 L264.63,1060.09 L268.80,1061.26 L268.80,1122.18 L264.63,1119.25 L260.47,1116.32 L256.30,1113.40 L252.13,1110.47 L247.97,1107.56 L243.80,1104.64 L239.63,1101.73 L235.47,1098.83 L231.30,1095.93 L227.13,1093.03 L222.97,1090.14 L218.80,1087.26 L214.63,1084.39 L210.47,1081.53 L206.30,1078.68 L202.13,1075.84 L197.97,1073.01 L193.80,1070.20 L189.63,1067.41 L185.47,1064.64 L181.30,1061.90 L177.13,1059.19 L172.97,1056.51 L168.80,1053.87 L164.63,1051.28 L160.47,1048.74 L156.30,1046.27 L152.13,1043.86 L147.97,1041.54 L143.80,1039.30 L139.63,1037.16 L135.47,1035.11 L131.30,1033.15 L127.13,1031.29 L122.97,1029.52 L118.80,1027.82 L114.63,1026.20 L110.47,1024.63 L106.30,1023.13 L102.13,1021.67 L97.97,1020.25 L93.80,1018.87 L89.63,1017.51 L85.47,1016.19 L81.30,1014.88 L77.13,1013.59 L72.97,1012.32 L68.80,1011.07 Z" fill="#cccccc"/>
<circle cx="69.6" cy="942.2" r="2.95"/>
<circle cx="73.6" cy="942.2" r="2.95"/>
<circle cx="80.4" cy="942.2" r="2.95"/>
<circle cx="83" cy="942.2" r="2.95"/>
<circle cx="89.6" cy="942.2" r="2.95"/>
<circle cx="96" cy="942.2" r="2.95"/>
<circle cx="141" cy="942.2" r="2.95"/>
<circle cx="148.6" cy="942.2" r="2.95"/>
<circle cx="74.4" cy="969.8" r="2.95"/>
<circle cx="92.6" cy="983.6" r="2.95"/>
<circle cx="127.2" cy="983.6" r="2.95"/>
<circle cx="95" cy="997.4" r="2.95"/>
<circle cx="100" cy="997.4" r="2.95"/>
<circle cx="111.4" cy="997.4" r="2.95"/>
<circle cx="124.8" cy="997.4" r="2.95"/>
<circle cx="161.6" cy="997.4" r="2.95"/>
<circle cx="82" cy="1011.4" r="2.95"/>
<circle cx="126.4" cy="1011.4" r="2.95"/>
<circle cx="148.6" cy="1011.4" r="2.95"/>
<circle cx="164" cy="1011.4" r="2.95"/>
<circle cx="176" cy="1011.4" r="2.95"/>
<circle cx="68.6" cy="1025" r="2.95"/>
<circle cx="95.4" cy="1025" r="2.95"/>
<circle cx="107" cy="1025" r="2.95"/>
<circle cx="109" cy="1025" r="2.95"/>
<circle cx="122" cy="1025" r="2.95"/>
<circle cx="131.4" cy="1025" r="2.95"/>
<circle cx="146" cy="1025" r="2.95"/>
<circle cx="149" cy="1025" r="2.95"/>
<circle cx="82" cy="1039" r="2.95"/>
<circle cx="105.6" cy="1039" r="2.95"/>
<circle cx="137" cy="1039" r="2.95"/>
<circle cx="139.4" cy="1039" r="2.95"/>
<circle cx="154" cy="1039" r="2.95"/>
<circle cx="162" cy="1039" r="2.95"/>
<circle cx="207.6" cy="1039" r="2.95"/>
<circle cx="228.6" cy="1039" r="2.95"/>
<circle cx="99.4" cy="1052.6" r="2.95"/>
<circle cx="122" cy="1052.6" r="2.95"/>
<circle cx="141" cy="1052.6" r="2.95"/>
<circle cx="148" cy="1052.6" r="2.95"/>
<circle cx="151.4" cy="1052.6" r="2.95"/>
<circle cx="159.4" cy="1052.6" r="2.95"/>
<circle cx="169.6" cy="1052.6" r="2.95"/>
<circle cx="176" cy="1052.6" r="2.95"/>
<circle cx="198.4" cy="1052.6" r="2.95"/>
<circle cx="82" cy="1066.6" r="2.95"/>
<circle cx="108.6" cy="1066.6" r="2.95"/>
<circle cx="119.6" cy="1066.6" r="2.95"/>
<circle cx="122" cy="1066.6" r="2.95"/>
<circle cx="132.4" cy="1066.6" r="2.95"/>
<circle cx="151.4" cy="1066.6" r="2.95"/>
<circle cx="162" cy="1066.6" r="2.95"/>
<circle cx="175.6" cy="1066.6" r="2.95"/>
<circle cx="269" cy="1066.6" r="2.95"/>
<circle cx="108.6" cy="1080.6" r="2.95"/>
<circle cx="148.6" cy="1080.6" r="2.95"/>
<circle cx="177" cy="1080.6" r="2.95"/>
<circle cx="210" cy="1080.6" r="2.95"/>
<circle cx="242" cy="1080.6" r="2.95"/>
<circle cx="131.4" cy="1094.6" r="2.95"/>
<line x1="68.8" y1="994.3" x2="268.8" y2="1092.6" stroke="#000" stroke-width="2.6"/>
<rect x="43.4" y="928.6" width="238.6" height="179.1" fill="none" stroke="#111" stroke-width="1.35"/>
<text x="43.4" y="1125.4" font-size="10.3" fill="#262626" text-anchor="middle">0</text>
<text x="69.9" y="1125.4" font-size="10.3" fill="#262626" text-anchor="middle">1</text>
<text x="96.4" y="1125.4" font-size="10.3" fill="#262626" text-anchor="middle">2</text>
<text x="122.9" y="1125.4" font-size="10.3" fill="#262626" text-anchor="middle">3</text>
<text x="149.4" y="1125.4" font-size="10.3" fill="#262626" text-anchor="middle">4</text>
<text x="176" y="1125.4" font-size="10.3" fill="#262626" text-anchor="middle">5</text>
<text x="202.5" y="1125.4" font-size="10.3" fill="#262626" text-anchor="middle">6</text>
<text x="229" y="1125.4" font-size="10.3" fill="#262626" text-anchor="middle">7</text>
<text x="255.5" y="1125.4" font-size="10.3" fill="#262626" text-anchor="middle">8</text>
<text x="282" y="1125.4" font-size="10.3" fill="#262626" text-anchor="middle">9</text>
<text x="36.8" y="1112.2" font-size="10.3" fill="#262626" text-anchor="end">0</text>
<text x="36.8" y="1084.6" font-size="10.3" fill="#262626" text-anchor="end">2</text>
<text x="36.8" y="1057" font-size="10.3" fill="#262626" text-anchor="end">4</text>
<text x="36.8" y="1029.4" font-size="10.3" fill="#262626" text-anchor="end">6</text>
<text x="36.8" y="1001.8" font-size="10.3" fill="#262626" text-anchor="end">8</text>
<text x="36.8" y="974.2" font-size="10.3" fill="#262626" text-anchor="end">10</text>
<text x="36.8" y="946.6" font-size="10.3" fill="#262626" text-anchor="end">12</text>
<path d="M43.4,1107.8v4.7 M69.9,1107.8v4.7 M96.4,1107.8v4.7 M122.9,1107.8v4.7 M149.4,1107.8v4.7 M176,1107.8v4.7 M202.5,1107.8v4.7 M229,1107.8v4.7 M255.5,1107.8v4.7 M282,1107.8v4.7 M43.4,1107.8h-4.3 M43.4,1080.2h-4.3 M43.4,1052.6h-4.3 M43.4,1025h-4.3 M43.4,997.4h-4.3 M43.4,969.8h-4.3 M43.4,942.2h-4.3" stroke="#111" stroke-width="1.2" fill="none"/>
<text x="138.7" y="1143.3" font-size="10.5" fill="#262626" textLength="46.37" lengthAdjust="spacingAndGlyphs">Litter size</text>
<text transform="translate(19.4,1018.2) rotate(-90)" x="-70.00" y="0" font-size="10.5" fill="#262626" textLength="139.77" lengthAdjust="spacingAndGlyphs">Birth season length (months)</text>
<text x="4.22" y="935.84" font-size="18" font-weight="bold" fill="#000" textLength="16.77" lengthAdjust="spacingAndGlyphs">(i)</text>
<clipPath id="clip_j"><rect x="441.4" y="928.6" width="238.6" height="179.5"/></clipPath>
<path d="M468.00,994.66 L472.16,996.84 L476.32,999.01 L480.49,1001.17 L484.65,1003.31 L488.81,1005.44 L492.98,1007.54 L497.14,1009.63 L501.30,1011.68 L505.46,1013.70 L509.62,1015.68 L513.79,1017.61 L517.95,1019.49 L522.11,1021.30 L526.27,1023.03 L530.44,1024.69 L534.60,1026.26 L538.76,1027.74 L542.92,1029.13 L547.09,1030.45 L551.25,1031.69 L555.41,1032.87 L559.57,1033.99 L563.74,1035.06 L567.90,1036.09 L572.06,1037.09 L576.23,1038.06 L580.39,1039.01 L584.55,1039.94 L588.71,1040.85 L592.88,1041.75 L597.04,1042.63 L601.20,1043.51 L605.36,1044.37 L609.52,1045.23 L613.69,1046.08 L617.85,1046.93 L622.01,1047.77 L626.17,1048.60 L630.34,1049.44 L634.50,1050.26 L638.66,1051.09 L642.82,1051.91 L646.99,1052.73 L651.15,1053.55 L655.31,1054.36 L659.47,1055.18 L663.64,1055.99 L667.80,1056.80 L667.80,1106.02 L663.64,1103.78 L659.47,1101.53 L655.31,1099.29 L651.15,1097.05 L646.99,1094.81 L642.82,1092.57 L638.66,1090.34 L634.50,1088.11 L630.34,1085.88 L626.17,1083.66 L622.01,1081.44 L617.85,1079.23 L613.69,1077.02 L609.52,1074.81 L605.36,1072.62 L601.20,1070.43 L597.04,1068.25 L592.88,1066.07 L588.71,1063.92 L584.55,1061.77 L580.39,1059.65 L576.23,1057.54 L572.06,1055.45 L567.90,1053.40 L563.74,1051.38 L559.57,1049.39 L555.41,1047.46 L551.25,1045.58 L547.09,1043.77 L542.92,1042.03 L538.76,1040.37 L534.60,1038.79 L530.44,1037.30 L526.27,1035.90 L522.11,1034.59 L517.95,1033.34 L513.79,1032.16 L509.62,1031.04 L505.46,1029.96 L501.30,1028.93 L497.14,1027.92 L492.98,1026.95 L488.81,1026.00 L484.65,1025.07 L480.49,1024.16 L476.32,1023.26 L472.16,1022.38 L468.00,1021.50 Z" fill="#cccccc" clip-path="url(#clip_j)"/>
<circle cx="469" cy="946.4" r="2.95"/>
<circle cx="482.6" cy="946.4" r="2.95"/>
<circle cx="547.6" cy="946.4" r="2.95"/>
<circle cx="472.6" cy="982.4" r="2.95"/>
<circle cx="479.4" cy="982.4" r="2.95"/>
<circle cx="481" cy="982.4" r="2.95"/>
<circle cx="488.6" cy="982.4" r="2.95"/>
<circle cx="495" cy="982.4" r="2.95"/>
<circle cx="540" cy="982.4" r="2.95"/>
<circle cx="575.4" cy="982.4" r="2.95"/>
<circle cx="467.4" cy="1018.2" r="2.95"/>
<circle cx="473.6" cy="1018.2" r="2.95"/>
<circle cx="481.4" cy="1018.2" r="2.95"/>
<circle cx="491" cy="1018.2" r="2.95"/>
<circle cx="495" cy="1018.2" r="2.95"/>
<circle cx="499.4" cy="1018.2" r="2.95"/>
<circle cx="510.4" cy="1018.2" r="2.95"/>
<circle cx="521" cy="1018.2" r="2.95"/>
<circle cx="524" cy="1018.2" r="2.95"/>
<circle cx="526.6" cy="1018.2" r="2.95"/>
<circle cx="547.4" cy="1018.2" r="2.95"/>
<circle cx="553" cy="1018.2" r="2.95"/>
<circle cx="560.4" cy="1018.2" r="2.95"/>
<circle cx="563" cy="1018.2" r="2.95"/>
<circle cx="481" cy="1054.2" r="2.95"/>
<circle cx="494" cy="1054.2" r="2.95"/>
<circle cx="498" cy="1054.2" r="2.95"/>
<circle cx="504.4" cy="1054.2" r="2.95"/>
<circle cx="507.6" cy="1054.2" r="2.95"/>
<circle cx="518" cy="1054.2" r="2.95"/>
<circle cx="521" cy="1054.2" r="2.95"/>
<circle cx="525.4" cy="1054.2" r="2.95"/>
<circle cx="530.6" cy="1054.2" r="2.95"/>
<circle cx="535" cy="1054.2" r="2.95"/>
<circle cx="539.4" cy="1054.2" r="2.95"/>
<circle cx="545.4" cy="1054.2" r="2.95"/>
<circle cx="550" cy="1054.2" r="2.95"/>
<circle cx="558" cy="1054.2" r="2.95"/>
<circle cx="561" cy="1054.2" r="2.95"/>
<circle cx="569" cy="1054.2" r="2.95"/>
<circle cx="574.4" cy="1054.2" r="2.95"/>
<circle cx="597.6" cy="1054.2" r="2.95"/>
<circle cx="606.4" cy="1054.2" r="2.95"/>
<circle cx="627.6" cy="1054.2" r="2.95"/>
<circle cx="641" cy="1054.2" r="2.95"/>
<circle cx="668" cy="1054.2" r="2.95"/>
<circle cx="530.4" cy="1090.2" r="2.95"/>
<circle cx="576.4" cy="1090.2" r="2.95"/>
<circle cx="609" cy="1090.2" r="2.95"/>
<line x1="468" y1="1009.1" x2="668" y2="1082.5" stroke="#000" stroke-width="2.6"/>
<rect x="441.4" y="928.6" width="238.6" height="179.5" fill="none" stroke="#111" stroke-width="1.35"/>
<text x="441.4" y="1125.7" font-size="10.3" fill="#262626" text-anchor="middle">0</text>
<text x="467.9" y="1125.7" font-size="10.3" fill="#262626" text-anchor="middle">1</text>
<text x="494.4" y="1125.7" font-size="10.3" fill="#262626" text-anchor="middle">2</text>
<text x="520.9" y="1125.7" font-size="10.3" fill="#262626" text-anchor="middle">3</text>
<text x="547.4" y="1125.7" font-size="10.3" fill="#262626" text-anchor="middle">4</text>
<text x="574" y="1125.7" font-size="10.3" fill="#262626" text-anchor="middle">5</text>
<text x="600.5" y="1125.7" font-size="10.3" fill="#262626" text-anchor="middle">6</text>
<text x="627" y="1125.7" font-size="10.3" fill="#262626" text-anchor="middle">7</text>
<text x="653.5" y="1125.7" font-size="10.3" fill="#262626" text-anchor="middle">8</text>
<text x="680" y="1125.7" font-size="10.3" fill="#262626" text-anchor="middle">9</text>
<text x="434.8" y="1094.6" font-size="10.3" fill="#262626" text-anchor="end">1</text>
<text x="434.8" y="1058.9" font-size="10.3" fill="#262626" text-anchor="end">2</text>
<text x="434.8" y="1023.1" font-size="10.3" fill="#262626" text-anchor="end">3</text>
<text x="434.8" y="987.4" font-size="10.3" fill="#262626" text-anchor="end">4</text>
<text x="434.8" y="951.6" font-size="10.3" fill="#262626" text-anchor="end">5</text>
<path d="M441.4,1108.1v4.7 M467.9,1108.1v4.7 M494.4,1108.1v4.7 M520.9,1108.1v4.7 M547.4,1108.1v4.7 M574,1108.1v4.7 M600.5,1108.1v4.7 M627,1108.1v4.7 M653.5,1108.1v4.7 M680,1108.1v4.7 M441.4,1090.2h-4.3 M441.4,1054.5h-4.3 M441.4,1018.7h-4.3 M441.4,983h-4.3 M441.4,947.2h-4.3" stroke="#111" stroke-width="1.2" fill="none"/>
<text x="536.7" y="1143.6" font-size="10.5" fill="#262626" textLength="46.37" lengthAdjust="spacingAndGlyphs">Litter size</text>
<text transform="translate(423.3,1018.3) rotate(-90)" x="-55.92" y="0" font-size="10.5" fill="#262626" textLength="111.36" lengthAdjust="spacingAndGlyphs">Birth season categories</text>
<text x="409.79" y="935.54" font-size="18" font-weight="bold" fill="#000" textLength="17.22" lengthAdjust="spacingAndGlyphs">(j)</text>
<clipPath id="clip_k"><rect x="44.3" y="1158.1" width="238.7" height="178.5"/></clipPath>
<path d="M60.40,1277.21 L64.58,1276.26 L68.75,1275.31 L72.92,1274.36 L77.10,1273.40 L81.28,1272.43 L85.45,1271.45 L89.62,1270.47 L93.80,1269.49 L97.97,1268.49 L102.15,1267.48 L106.33,1266.47 L110.50,1265.44 L114.68,1264.40 L118.85,1263.35 L123.03,1262.28 L127.20,1261.19 L131.38,1260.09 L135.55,1258.96 L139.72,1257.81 L143.90,1256.63 L148.08,1255.43 L152.25,1254.19 L156.42,1252.92 L160.60,1251.62 L164.78,1250.27 L168.95,1248.88 L173.12,1247.45 L177.30,1245.97 L181.47,1244.45 L185.65,1242.88 L189.83,1241.26 L194.00,1239.60 L198.18,1237.90 L202.35,1236.15 L206.53,1234.37 L210.70,1232.55 L214.88,1230.70 L219.05,1228.81 L223.23,1226.90 L227.40,1224.97 L231.57,1223.01 L235.75,1221.03 L239.93,1219.04 L244.10,1217.02 L248.28,1215.00 L252.45,1212.96 L256.62,1210.90 L260.80,1208.84 L260.80,1240.42 L256.62,1241.43 L252.45,1242.46 L248.28,1243.49 L244.10,1244.54 L239.93,1245.60 L235.75,1246.68 L231.57,1247.78 L227.40,1248.89 L223.23,1250.03 L219.05,1251.20 L214.88,1252.39 L210.70,1253.62 L206.53,1254.87 L202.35,1256.16 L198.18,1257.49 L194.00,1258.86 L189.83,1260.28 L185.65,1261.74 L181.47,1263.24 L177.30,1264.79 L173.12,1266.39 L168.95,1268.03 L164.78,1269.72 L160.60,1271.45 L156.42,1273.22 L152.25,1275.02 L148.08,1276.86 L143.90,1278.73 L139.72,1280.63 L135.55,1282.55 L131.38,1284.50 L127.20,1286.47 L123.03,1288.46 L118.85,1290.47 L114.68,1292.49 L110.50,1294.52 L106.33,1296.57 L102.15,1298.63 L97.97,1300.70 L93.80,1302.78 L89.62,1304.86 L85.45,1306.96 L81.28,1309.06 L77.10,1311.17 L72.92,1313.28 L68.75,1315.40 L64.58,1317.52 L60.40,1319.65 Z" fill="#cccccc" clip-path="url(#clip_k)"/>
<circle cx="149" cy="1172.6" r="2.95"/>
<circle cx="187.4" cy="1172.6" r="2.95"/>
<circle cx="200" cy="1172.6" r="2.95"/>
<circle cx="216.4" cy="1172.6" r="2.95"/>
<circle cx="223" cy="1172.6" r="2.95"/>
<circle cx="225.6" cy="1172.6" r="2.95"/>
<circle cx="229" cy="1172.6" r="2.95"/>
<circle cx="250" cy="1172.6" r="2.95"/>
<circle cx="205.6" cy="1199.8" r="2.95"/>
<circle cx="224" cy="1213.4" r="2.95"/>
<circle cx="240.4" cy="1213.4" r="2.95"/>
<circle cx="182" cy="1226.6" r="2.95"/>
<circle cx="186.4" cy="1226.6" r="2.95"/>
<circle cx="206" cy="1226.6" r="2.95"/>
<circle cx="221" cy="1226.6" r="2.95"/>
<circle cx="249.6" cy="1226.6" r="2.95"/>
<circle cx="188.6" cy="1240.6" r="2.95"/>
<circle cx="203.6" cy="1240.6" r="2.95"/>
<circle cx="217" cy="1240.6" r="2.95"/>
<circle cx="230.6" cy="1240.6" r="2.95"/>
<circle cx="129.4" cy="1253.8" r="2.95"/>
<circle cx="166.4" cy="1253.8" r="2.95"/>
<circle cx="176" cy="1253.8" r="2.95"/>
<circle cx="180" cy="1253.8" r="2.95"/>
<circle cx="215" cy="1253.8" r="2.95"/>
<circle cx="219" cy="1253.8" r="2.95"/>
<circle cx="223" cy="1253.8" r="2.95"/>
<circle cx="60.4" cy="1267.6" r="2.95"/>
<circle cx="106" cy="1267.6" r="2.95"/>
<circle cx="111" cy="1267.6" r="2.95"/>
<circle cx="176" cy="1267.6" r="2.95"/>
<circle cx="207" cy="1267.6" r="2.95"/>
<circle cx="211" cy="1267.6" r="2.95"/>
<circle cx="220" cy="1267.6" r="2.95"/>
<circle cx="222.4" cy="1267.6" r="2.95"/>
<circle cx="242" cy="1267.6" r="2.95"/>
<circle cx="97" cy="1281.2" r="2.95"/>
<circle cx="105" cy="1281.2" r="2.95"/>
<circle cx="110" cy="1281.2" r="2.95"/>
<circle cx="120.6" cy="1281.2" r="2.95"/>
<circle cx="149.6" cy="1281.2" r="2.95"/>
<circle cx="175" cy="1281.2" r="2.95"/>
<circle cx="200.4" cy="1281.2" r="2.95"/>
<circle cx="222" cy="1281.2" r="2.95"/>
<circle cx="235" cy="1281.2" r="2.95"/>
<circle cx="238" cy="1281.2" r="2.95"/>
<circle cx="75.6" cy="1294.6" r="2.95"/>
<circle cx="78" cy="1294.6" r="2.95"/>
<circle cx="90" cy="1294.6" r="2.95"/>
<circle cx="92.4" cy="1294.6" r="2.95"/>
<circle cx="95" cy="1294.6" r="2.95"/>
<circle cx="97.4" cy="1294.6" r="2.95"/>
<circle cx="103" cy="1294.6" r="2.95"/>
<circle cx="108" cy="1294.6" r="2.95"/>
<circle cx="120" cy="1294.6" r="2.95"/>
<circle cx="123.6" cy="1294.6" r="2.95"/>
<circle cx="231.6" cy="1294.6" r="2.95"/>
<circle cx="88.6" cy="1308.4" r="2.95"/>
<circle cx="103" cy="1308.4" r="2.95"/>
<circle cx="225.2" cy="1308.4" r="2.95"/>
<circle cx="254" cy="1308.4" r="2.95"/>
<circle cx="261" cy="1308.4" r="2.95"/>
<circle cx="71.4" cy="1321.6" r="2.95"/>
<circle cx="118" cy="1321.6" r="2.95"/>
<line x1="60.4" y1="1298.4" x2="260.8" y2="1224.6" stroke="#000" stroke-width="2.6"/>
<rect x="44.3" y="1158.1" width="238.7" height="178.5" fill="none" stroke="#111" stroke-width="1.35"/>
<text x="44.3" y="1354.2" font-size="10.3" fill="#262626" text-anchor="middle">4</text>
<text x="92" y="1354.2" font-size="10.3" fill="#262626" text-anchor="middle">5</text>
<text x="139.8" y="1354.2" font-size="10.3" fill="#262626" text-anchor="middle">6</text>
<text x="187.5" y="1354.2" font-size="10.3" fill="#262626" text-anchor="middle">7</text>
<text x="235.3" y="1354.2" font-size="10.3" fill="#262626" text-anchor="middle">8</text>
<text x="283" y="1354.2" font-size="10.3" fill="#262626" text-anchor="middle">9</text>
<text x="37.7" y="1341" font-size="10.3" fill="#262626" text-anchor="end">0</text>
<text x="37.7" y="1313.4" font-size="10.3" fill="#262626" text-anchor="end">2</text>
<text x="37.7" y="1285.8" font-size="10.3" fill="#262626" text-anchor="end">4</text>
<text x="37.7" y="1258.2" font-size="10.3" fill="#262626" text-anchor="end">6</text>
<text x="37.7" y="1230.6" font-size="10.3" fill="#262626" text-anchor="end">8</text>
<text x="37.7" y="1203" font-size="10.3" fill="#262626" text-anchor="end">10</text>
<text x="37.7" y="1175.4" font-size="10.3" fill="#262626" text-anchor="end">12</text>
<path d="M44.3,1336.6v4.7 M92,1336.6v4.7 M139.8,1336.6v4.7 M187.5,1336.6v4.7 M235.3,1336.6v4.7 M283,1336.6v4.7 M44.3,1336.6h-4.3 M44.3,1309h-4.3 M44.3,1281.4h-4.3 M44.3,1253.8h-4.3 M44.3,1226.2h-4.3 M44.3,1198.6h-4.3 M44.3,1171h-4.3" stroke="#111" stroke-width="1.2" fill="none"/>
<text x="103.6" y="1372.1" font-size="10.5" fill="#262626" textLength="118.65" lengthAdjust="spacingAndGlyphs">Ln (body mass in grams)</text>
<text transform="translate(20.3,1247.3) rotate(-90)" x="-70.00" y="0" font-size="10.5" fill="#262626" textLength="139.77" lengthAdjust="spacingAndGlyphs">Birth season length (months)</text>
<text x="0.18" y="1163.74" font-size="18" font-weight="bold" fill="#000" textLength="22.65" lengthAdjust="spacingAndGlyphs">(k)</text>
<clipPath id="clip_l"><rect x="443.6" y="1157.6" width="238" height="178.7"/></clipPath>
<circle cx="590.4" cy="1179" r="2.95"/>
<circle cx="603.4" cy="1179" r="2.95"/>
<circle cx="626.6" cy="1179" r="2.95"/>
<circle cx="550.6" cy="1213.6" r="2.95"/>
<circle cx="607" cy="1213.6" r="2.95"/>
<circle cx="620" cy="1213.6" r="2.95"/>
<circle cx="626" cy="1213.6" r="2.95"/>
<circle cx="628.6" cy="1213.6" r="2.95"/>
<circle cx="633" cy="1213.6" r="2.95"/>
<circle cx="654.4" cy="1213.6" r="2.95"/>
<circle cx="551.4" cy="1248.4" r="2.95"/>
<circle cx="579.4" cy="1248.4" r="2.95"/>
<circle cx="584.6" cy="1248.4" r="2.95"/>
<circle cx="591" cy="1248.4" r="2.95"/>
<circle cx="609" cy="1248.4" r="2.95"/>
<circle cx="621.6" cy="1248.4" r="2.95"/>
<circle cx="626" cy="1248.4" r="2.95"/>
<circle cx="628" cy="1248.4" r="2.95"/>
<circle cx="634.4" cy="1248.4" r="2.95"/>
<circle cx="644.4" cy="1248.4" r="2.95"/>
<circle cx="646.4" cy="1248.4" r="2.95"/>
<circle cx="654.4" cy="1248.4" r="2.95"/>
<circle cx="460" cy="1282.8" r="2.95"/>
<circle cx="476" cy="1282.8" r="2.95"/>
<circle cx="478.4" cy="1282.8" r="2.95"/>
<circle cx="489" cy="1282.8" r="2.95"/>
<circle cx="492" cy="1282.8" r="2.95"/>
<circle cx="495" cy="1282.8" r="2.95"/>
<circle cx="497.6" cy="1282.8" r="2.95"/>
<circle cx="504" cy="1282.8" r="2.95"/>
<circle cx="507" cy="1282.8" r="2.95"/>
<circle cx="509.6" cy="1282.8" r="2.95"/>
<circle cx="512" cy="1282.8" r="2.95"/>
<circle cx="521.6" cy="1282.8" r="2.95"/>
<circle cx="524.4" cy="1282.8" r="2.95"/>
<circle cx="531" cy="1282.8" r="2.95"/>
<circle cx="568.4" cy="1282.8" r="2.95"/>
<circle cx="577.6" cy="1282.8" r="2.95"/>
<circle cx="580" cy="1282.8" r="2.95"/>
<circle cx="583" cy="1282.8" r="2.95"/>
<circle cx="603.6" cy="1282.8" r="2.95"/>
<circle cx="607" cy="1282.8" r="2.95"/>
<circle cx="610.4" cy="1282.8" r="2.95"/>
<circle cx="614.4" cy="1282.8" r="2.95"/>
<circle cx="618.4" cy="1282.8" r="2.95"/>
<circle cx="624" cy="1282.8" r="2.95"/>
<circle cx="627" cy="1282.8" r="2.95"/>
<circle cx="629" cy="1282.8" r="2.95"/>
<circle cx="635.4" cy="1282.8" r="2.95"/>
<circle cx="638.4" cy="1282.8" r="2.95"/>
<circle cx="642" cy="1282.8" r="2.95"/>
<circle cx="471.6" cy="1317.2" r="2.95"/>
<circle cx="519" cy="1317.2" r="2.95"/>
<circle cx="658.6" cy="1317.2" r="2.95"/>
<circle cx="665.6" cy="1317.2" r="2.95"/>
<rect x="443.6" y="1157.6" width="238" height="178.7" fill="none" stroke="#111" stroke-width="1.35"/>
<text x="443.6" y="1353.9" font-size="10.3" fill="#262626" text-anchor="middle">4</text>
<text x="491.2" y="1353.9" font-size="10.3" fill="#262626" text-anchor="middle">5</text>
<text x="538.8" y="1353.9" font-size="10.3" fill="#262626" text-anchor="middle">6</text>
<text x="586.4" y="1353.9" font-size="10.3" fill="#262626" text-anchor="middle">7</text>
<text x="634" y="1353.9" font-size="10.3" fill="#262626" text-anchor="middle">8</text>
<text x="684.3" y="1353.9" font-size="10.3" fill="#262626" text-anchor="end">9</text>
<text x="437" y="1322.8" font-size="10.3" fill="#262626" text-anchor="end">1</text>
<text x="437" y="1287.1" font-size="10.3" fill="#262626" text-anchor="end">2</text>
<text x="437" y="1251.3" font-size="10.3" fill="#262626" text-anchor="end">3</text>
<text x="437" y="1215.6" font-size="10.3" fill="#262626" text-anchor="end">4</text>
<text x="437" y="1179.8" font-size="10.3" fill="#262626" text-anchor="end">5</text>
<path d="M443.6,1336.3v4.7 M491.2,1336.3v4.7 M538.8,1336.3v4.7 M586.4,1336.3v4.7 M634,1336.3v4.7 M681.6,1336.3v4.7 M443.6,1318.4h-4.3 M443.6,1282.7h-4.3 M443.6,1246.9h-4.3 M443.6,1211.2h-4.3 M443.6,1175.4h-4.3" stroke="#111" stroke-width="1.2" fill="none"/>
<text x="502.6" y="1371.8" font-size="10.5" fill="#262626" textLength="118.65" lengthAdjust="spacingAndGlyphs">Ln (body mass in grams)</text>
<text transform="translate(425.5,1246.9) rotate(-90)" x="-55.92" y="0" font-size="10.5" fill="#262626" textLength="111.36" lengthAdjust="spacingAndGlyphs">Birth season categories</text>
<text x="406.57" y="1163.64" font-size="18" font-weight="bold" fill="#000" textLength="17.55" lengthAdjust="spacingAndGlyphs">(l)</text>
</svg></body></html>
